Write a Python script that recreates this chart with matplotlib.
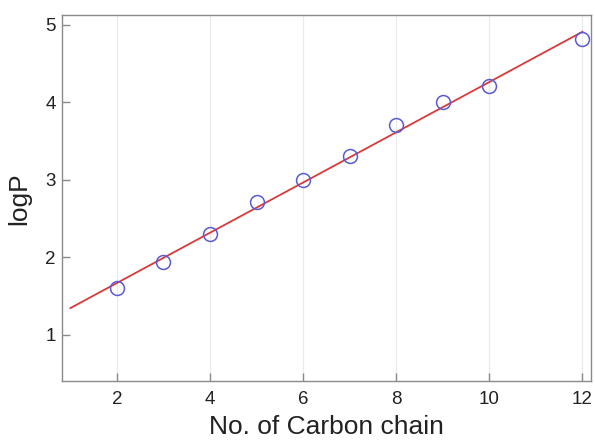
import numpy as np
import matplotlib
matplotlib.use("Agg")
import matplotlib.pyplot as plt

plt.rcParams['font.family'] = ['Liberation Sans', 'DejaVu Sans']

carbon = [2, 3, 4, 5, 6, 7, 8, 9, 10, 12]
logp = [1.60, 1.94, 2.30, 2.72, 3.00, 3.31, 3.71, 4.00, 4.21, 4.81]
fit_range = [1, 12]
xticks = [2, 4, 6, 8, 10, 12]
yticks = [1, 2, 3, 4, 5]

fig = plt.figure(figsize=(5.95, 4.4), dpi=100)
ax = fig.add_axes([0.105, 0.133, 0.888, 0.832])

coef = np.polyfit(carbon, logp, 1)
xf = np.array(fit_range, dtype=float)
ax.plot(xf, np.polyval(coef, xf), color='#d93a3a', lw=1.3, zorder=3)
ax.plot(carbon, logp, linestyle='none', marker='o', markersize=10,
        markerfacecolor='none', markeredgecolor='#5a5ad6', markeredgewidth=1.1, zorder=4)

ax.set_xlim(0.83, 12.18)
ax.set_ylim(0.4, 5.12)
ax.set_xticks(xticks)
ax.set_yticks(yticks)
ax.grid(axis='x', color='#ebebeb', lw=0.9)
ax.set_axisbelow(True)
for s in ax.spines.values():
    s.set_color('#8a8a8a')
    s.set_linewidth(1.0)
ax.tick_params(direction='in', length=6, width=1.0, color='#8a8a8a',
               labelsize=13.5, labelcolor='#222222', pad=5)
ax.tick_params(axis='x', pad=7)
ax.set_xlabel('No. of Carbon chain', fontsize=19, color='#222222', labelpad=5)
ax.set_ylabel('logP', fontsize=19, color='#222222', labelpad=10)

fig.savefig('out.png', dpi=100)
